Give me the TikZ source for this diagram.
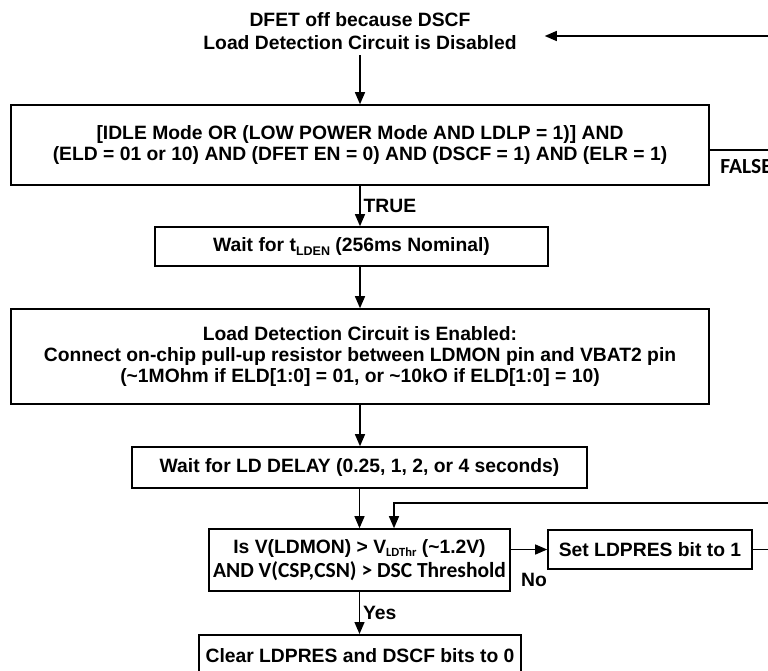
\documentclass[tikz,border=0pt]{standalone}
\usepackage{fontspec}
\setmainfont{Liberation Sans}
\newfontfamily\narrowfont{Carlito}
\usetikzlibrary{arrows.meta,positioning,calc}
\newcommand{\lowtxt}[1]{\raisebox{-0.35ex}{\fontsize{12.5}{12.5}\selectfont #1}}

\begin{document}
\begin{tikzpicture}[x=1pt,y=-1pt,
  every node/.style={font=\bfseries\fontsize{19.3}{21}\selectfont},
  stepbox/.style={draw,line width=1.6pt,align=center,inner sep=0pt},
  flow/.style={line width=1.3pt,-{Triangle[length=12pt,width=10pt]}},
  caliblabel/.style={font=\bfseries\narrowfont\fontsize{21.5}{23}\selectfont}]
  \useasboundingbox (0,0) rectangle (768,670);
  \clip (0,0) rectangle (768,670);
  % boxes
  \node[align=center,inner xsep=28pt,inner ysep=5pt,font=\bfseries\fontsize{19.3}{23}\selectfont]
    (title) at (360,31.5) {DFET off because DSCF\\Load Detection Circuit is Disabled};
  \node[stepbox,minimum width=698pt,minimum height=80pt] (cond) at (360,145)
    {[IDLE Mode OR (LOW POWER Mode AND LDLP = 1)] AND\\(ELD = 01 or 10) AND (DFET EN = 0) AND (DSCF = 1) AND (ELR = 1)};
  \node[stepbox,minimum width=393pt,minimum height=39pt] (wait) at (351.5,246.5)
    {Wait for t\lowtxt{LDEN} (256ms Nominal)};
  \node[stepbox,minimum width=698pt,minimum height=95pt] (enable) at (360,356.5)
    {Load Detection Circuit is Enabled:\\Connect on-chip pull-up resistor between LDMON pin and VBAT2 pin\\(\textasciitilde 1MOhm if ELD[1:0] = 01, or \textasciitilde 10kO if ELD[1:0] = 10)};
  \node[stepbox,minimum width=455pt,minimum height=41pt] (delay) at (359.5,467.5)
    {Wait for LD DELAY (0.25, 1, 2, or 4 seconds)};
  \node[stepbox,minimum width=301pt,minimum height=62pt,font=\bfseries\fontsize{19.3}{24.5}\selectfont] (check) at (359.5,560)
    {Is V(LDMON) > V\lowtxt{\narrowfont LDThr} (\textasciitilde 1.2V)\\{\narrowfont\fontsize{21.5}{24.5}\selectfont AND V(CSP,CSN) > DSC Threshold}};
  \node[stepbox,minimum width=204pt,minimum height=39pt] (setbit) at (650,549.5) {Set LDPRES bit to 1};
  \node[stepbox,minimum width=322pt,minimum height=42pt,anchor=north] (clear) at (360,634)
    {Clear LDPRES and DSCF bits to 0};
  % loops leave the picture on the right
  \coordinate (backR) at (790,36);
  \coordinate (loopR) at (790,503);
  \draw[flow] ([yshift=-5pt]cond.east) -- ([yshift=-5pt]cond.east -| backR) -- (backR) -- ([yshift=-4.5pt]title.east);
  \node[caliblabel,anchor=west] (false) at ([xshift=7pt,yshift=-22pt]cond.east) {FALSE};
  \draw[flow] (setbit.east) -- (setbit.east -| loopR) -- (loopR)
    -- ([xshift=34.5pt]check.north |- loopR) -- ([xshift=34.5pt]check.north);
  % main flow
  \draw[flow] (title.south) -- (cond.north);
  \draw[flow] (cond.south) -- node[right,inner sep=3pt] (true) {TRUE} (cond.south |- wait.north);
  \draw[flow] (enable.north |- wait.south) -- (enable.north);
  \draw[flow] (enable.south) -- (enable.south |- delay.north);
  \draw[flow] (delay.south) -- (delay.south |- check.north);
  \draw[flow] (check.east |- setbit.west) -- (setbit.west);
  \node (no) at (534,580) {No};
  \draw[flow] (check.south) -- node[right,inner sep=3pt] (yes) {Yes} (check.south |- clear.north);
\end{tikzpicture}
\end{document}
